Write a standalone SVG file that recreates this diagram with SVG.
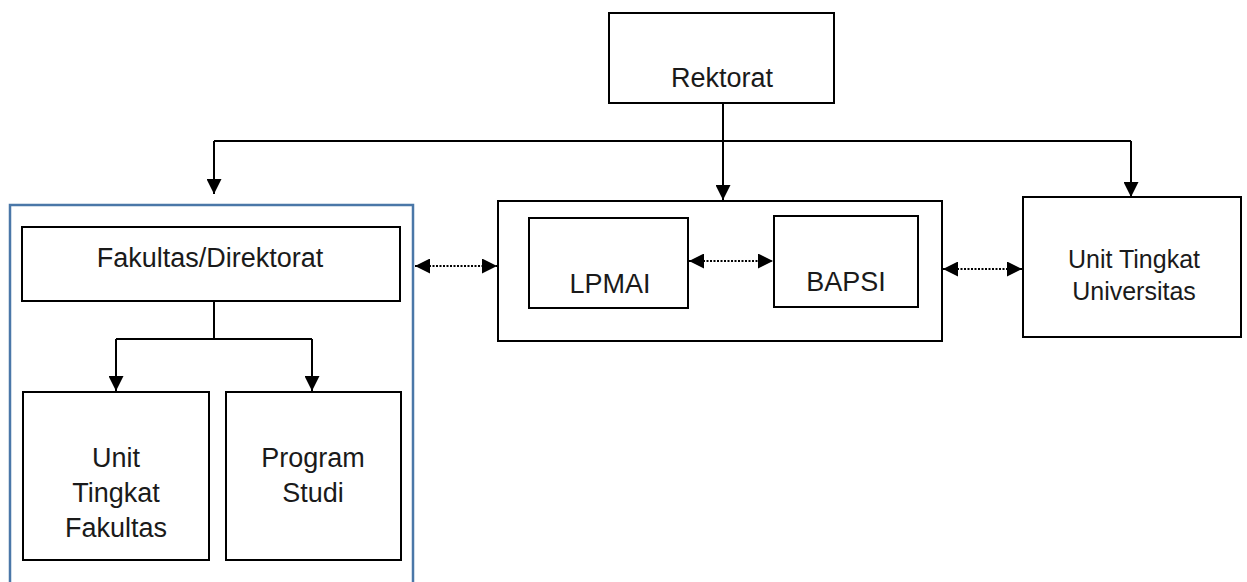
<svg xmlns="http://www.w3.org/2000/svg" width="1247" height="582" viewBox="0 0 1247 582">
  <style>
    .box { fill: #ffffff; stroke: #000000; stroke-width: 2; }
    .group { fill: none; stroke: #4a77a8; stroke-width: 2.5; }
    .lbl { font-family: "Liberation Sans", Arial, sans-serif; font-size: 27px; fill: #1a1a1a; text-anchor: middle; }
    .lbl2 { font-family: "Liberation Sans", Arial, sans-serif; font-size: 25px; fill: #1a1a1a; text-anchor: middle; }
    .conn { fill: none; stroke: #000000; stroke-width: 2; }
    .dot { fill: none; stroke: #000000; stroke-width: 2; stroke-dasharray: 2 1.5; }
  </style>
  <defs>
    <marker id="arr" viewBox="0 0 15 15" markerWidth="15" markerHeight="15" refX="15" refY="7.5" orient="auto-start-reverse" markerUnits="userSpaceOnUse">
      <path d="M0,0 L15,7.5 L0,15 z" fill="#000000"/>
    </marker>
  </defs>
  <rect width="1247" height="582" fill="#ffffff"/>

  <g id="fakultas-group">
    <rect class="group" x="10" y="205" width="403" height="390"/>
  </g>

  <g id="rektorat">
    <rect class="box" x="609" y="13" width="225" height="90"/>
    <text class="lbl" x="722" y="87">Rektorat</text>
  </g>

  <g id="fakultas-direktorat">
    <rect class="box" x="22" y="227" width="378" height="74"/>
    <text class="lbl" x="210" y="267">Fakultas/Direktorat</text>
  </g>

  <g id="unit-tingkat-fakultas">
    <rect class="box" x="23" y="392" width="186" height="168"/>
    <text class="lbl" x="116" y="467">Unit</text>
    <text class="lbl" x="116" y="502">Tingkat</text>
    <text class="lbl" x="116" y="537">Fakultas</text>
  </g>

  <g id="program-studi">
    <rect class="box" x="226" y="392" width="175" height="168"/>
    <text class="lbl" x="313" y="467">Program</text>
    <text class="lbl" x="313" y="502">Studi</text>
  </g>

  <g id="lpmai-bapsi-group">
    <rect class="box" x="498" y="201" width="444" height="140"/>
  </g>

  <g id="lpmai">
    <rect class="box" x="529" y="218" width="159" height="90"/>
    <text class="lbl" x="610" y="293">LPMAI</text>
  </g>

  <g id="bapsi">
    <rect class="box" x="774" y="216" width="144" height="91"/>
    <text class="lbl" x="846" y="291">BAPSI</text>
  </g>

  <g id="unit-tingkat-universitas">
    <rect class="box" x="1023" y="197" width="218" height="140"/>
    <text class="lbl2" x="1134" y="268">Unit Tingkat</text>
    <text class="lbl2" x="1134" y="300">Universitas</text>
  </g>

  <g id="connectors">
    <path class="conn" d="M723,104 V200" marker-end="url(#arr)"/>
    <path class="conn" d="M214,141 H1131" />
    <path class="conn" d="M214,141 V194" marker-end="url(#arr)"/>
    <path class="conn" d="M1131,141 V197" marker-end="url(#arr)"/>
    <path class="conn" d="M214,302 V339 M116,339 H312"/>
    <path class="conn" d="M116,339 V391" marker-end="url(#arr)"/>
    <path class="conn" d="M312,339 V391" marker-end="url(#arr)"/>
    <path class="dot" d="M415,266 H497" marker-start="url(#arr)" marker-end="url(#arr)"/>
    <path class="dot" d="M689,261 H773" marker-start="url(#arr)" marker-end="url(#arr)"/>
    <path class="dot" d="M943,269 H1022" marker-start="url(#arr)" marker-end="url(#arr)"/>
  </g>
</svg>
